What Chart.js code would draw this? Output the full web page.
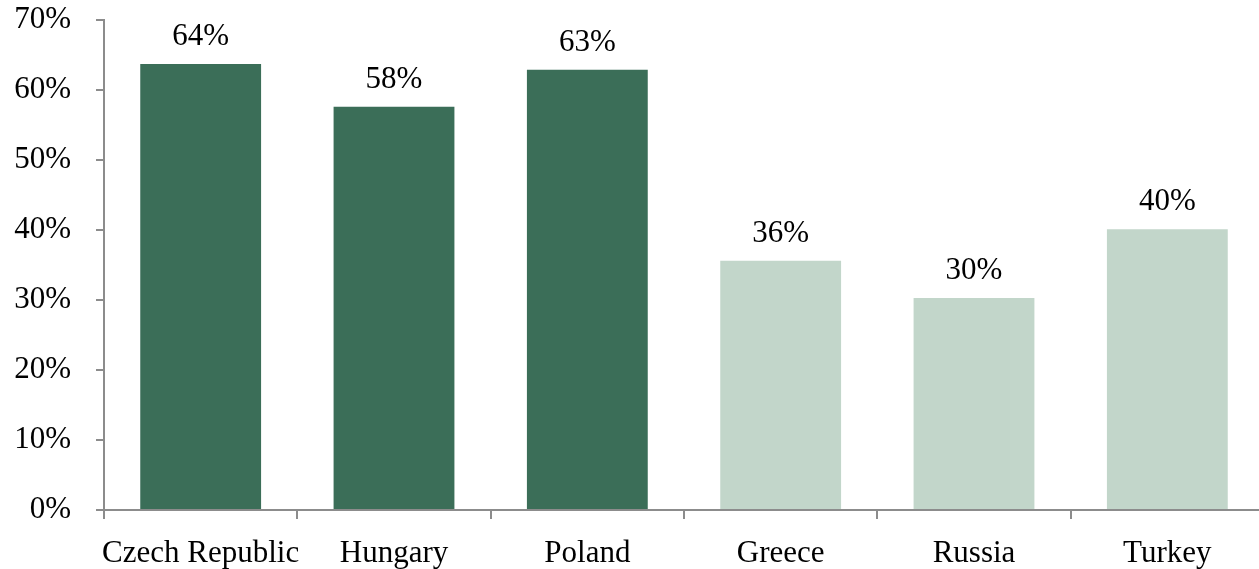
<!DOCTYPE html>
<html>
<head>
<meta charset="utf-8">
<script src="https://cdn.jsdelivr.net/npm/chart.js@4.4.0/dist/chart.umd.min.js"></script>
<style>
  html, body { margin: 0; padding: 0; background: #fff; overflow: hidden; }
  #chart { display: block; }
</style>
</head>
<body>
<canvas id="chart" width="1266" height="569"></canvas>
<script>
const countries = ["Czech Republic", "Hungary", "Poland", "Greece", "Russia", "Turkey"];
const shares = [63.7, 57.6, 62.9, 35.6, 30.3, 40.1];
const barColors = ["#3b6e58", "#3b6e58", "#3b6e58", "#c2d6ca", "#c2d6ca", "#c2d6ca"];
const yTicks = [0, 10, 20, 30, 40, 50, 60, 70];

const FONT = "'Liberation Serif', 'Times New Roman', serif";
const AXIS = "#8c8c8c";

// value labels over each bar
const barLabels = {
  id: "barLabels",
  afterDatasetsDraw(chart) {
    const ctx = chart.ctx;
    const meta = chart.getDatasetMeta(0);
    ctx.save();
    ctx.font = "31px " + FONT;
    ctx.fillStyle = "#000";
    ctx.textAlign = "center";
    ctx.textBaseline = "middle";
    meta.data.forEach((bar, i) => {
      ctx.fillText(Math.round(shares[i]) + "%", bar.x, bar.y - 27);
    });
    ctx.restore();
  }
};

new Chart(document.getElementById("chart"), {
  type: "bar",
  data: {
    labels: countries,
    datasets: [{
      data: shares,
      backgroundColor: barColors,
      borderWidth: 0,
      categoryPercentage: 1,
      barPercentage: 0.625
    }]
  },
  options: {
    responsive: false,
    animation: false,
    layout: { padding: { top: 0, right: 2, left: 0, bottom: 0 } },
    plugins: { legend: { display: false }, tooltip: { enabled: false } },
    scales: {
      x: {
        grid: { offset: true, drawOnChartArea: false, drawTicks: true, tickLength: 9, color: AXIS, lineWidth: 2 },
        border: { color: AXIS, width: 2 },
        ticks: { color: "#000", font: { family: FONT, size: 31 }, padding: 16, maxRotation: 0, autoSkip: false },
        afterFit(scale) { scale.height = 59; }
      },
      y: {
        min: 0,
        max: 70,
        afterBuildTicks(scale) { scale.ticks = yTicks.map(v => ({ value: v })); },
        grid: { drawOnChartArea: false, drawTicks: true, tickLength: 8, color: AXIS, lineWidth: 2 },
        border: { color: AXIS, width: 2 },
        ticks: { color: "#000", font: { family: FONT, size: 31 }, padding: 25, callback: v => v + "%" },
        afterFit(scale) {
          scale.width = 104;
          scale.paddingTop = 20;
          scale.paddingBottom = 0;
        }
      }
    }
  },
  plugins: [barLabels]
});
</script>
</body>
</html>
